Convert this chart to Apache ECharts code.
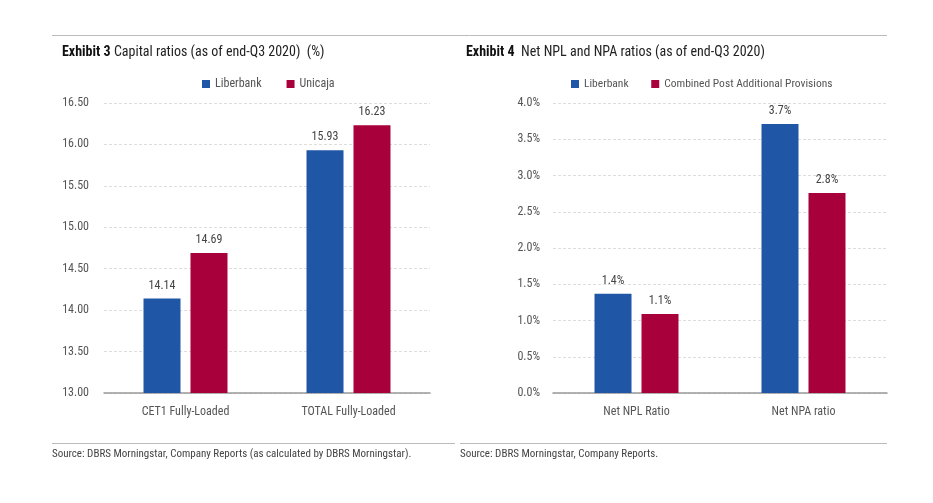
<!DOCTYPE html>
<html><head><meta charset="utf-8">
<script src="https://cdn.jsdelivr.net/npm/echarts@6/dist/echarts.min.js"></script>
<style>html,body{margin:0;padding:0;background:#fff}#c{width:933px;height:503px}</style>
</head><body><div id="c"></div>
<script>
var FONT = "'Liberation Sans Narrow','Arial Narrow','Roboto Condensed',sans-serif";
var capCategories = ['CET1 Fully-Loaded', 'TOTAL Fully-Loaded'];
var capLiberbank = [14.14, 15.93];
var capUnicaja = [14.69, 16.23];
var npCategories = ['Net NPL Ratio', 'Net NPA ratio'];
var npLiberbank = [1.37, 3.71];
var npCombined = [1.09, 2.76];
var BLUE = '#1f56a6', RED = '#a8003a';

var chart = echarts.init(document.getElementById('c'), null, {renderer: 'canvas'});
var axisLabel = {color: '#555', fontFamily: FONT, fontSize: 12};
var lbl = function (fmt) {
  return {show: true, position: 'top', distance: 7, color: '#444', fontFamily: FONT, fontSize: 12, formatter: fmt};
};
chart.setOption({
  animation: false,
  textStyle: {fontFamily: FONT},
  title: [
    {left: 57, top: 40, text: '{b|Exhibit 3} Capital ratios (as of end-Q3 2020)  (%)',
     textStyle: {rich: {b: {fontWeight: 'bold', fontSize: 14, color: '#111', fontFamily: FONT}}, fontSize: 14, color: '#222', fontWeight: 'normal', fontFamily: FONT}},
    {left: 461, top: 40, text: '{b|Exhibit 4}  Net NPL and NPA ratios (as of end-Q3 2020)',
     textStyle: {rich: {b: {fontWeight: 'bold', fontSize: 14, color: '#111', fontFamily: FONT}}, fontSize: 14, color: '#222', fontWeight: 'normal', fontFamily: FONT}},
    {left: 47, top: 444, text: 'Source: DBRS Morningstar, Company Reports (as calculated by DBRS Morningstar).',
     textStyle: {fontSize: 11, color: '#444', fontWeight: 'normal', fontFamily: FONT}},
    {left: 455, top: 444, text: 'Source: DBRS Morningstar, Company Reports.',
     textStyle: {fontSize: 11, color: '#444', fontWeight: 'normal', fontFamily: FONT}}
  ],
  legend: [
    {left: 197, top: 73, itemWidth: 8, itemHeight: 8, itemGap: 25, icon: 'rect',
     textStyle: {color: '#555', fontSize: 12, fontFamily: FONT}, data: ['Liberbank', 'Unicaja']},
    {left: 566, top: 73, itemWidth: 8, itemHeight: 8, itemGap: 20, icon: 'rect',
     textStyle: {color: '#555', fontSize: 11.5, fontFamily: FONT}, data: ['Liberbank ', 'Combined Post Additional Provisions']}
  ],
  grid: [
    {left: 104, width: 326, top: 103, height: 290, containLabel: false},
    {left: 553, width: 334, top: 103, height: 290, containLabel: false}
  ],
  xAxis: [
    {type: 'category', gridIndex: 0, data: capCategories, axisTick: {show: false},
     axisLine: {lineStyle: {color: '#999', width: 1.5}}, axisLabel: Object.assign({margin: 13}, axisLabel)},
    {type: 'category', gridIndex: 1, data: npCategories, axisTick: {show: false},
     axisLine: {lineStyle: {color: '#999', width: 1.5}}, axisLabel: Object.assign({margin: 13}, axisLabel)}
  ],
  yAxis: [
    {type: 'value', gridIndex: 0, min: 13, max: 16.5, interval: 0.5,
     axisLabel: Object.assign({margin: 15, formatter: function (v) { return v.toFixed(2); }}, axisLabel),
     splitLine: {lineStyle: {color: '#ddd', type: [3, 2]}}, axisLine: {show: false}, axisTick: {show: false}},
    {type: 'value', gridIndex: 1, min: 0, max: 4, interval: 0.5,
     axisLabel: Object.assign({margin: 13, formatter: function (v) { return v.toFixed(1) + '%'; }}, axisLabel),
     splitLine: {lineStyle: {color: '#ddd', type: [3, 2]}}, axisLine: {show: false}, axisTick: {show: false}}
  ],
  series: [
    {name: 'Liberbank', type: 'bar', xAxisIndex: 0, yAxisIndex: 0, data: capLiberbank, barWidth: 37, barGap: '27%',
     itemStyle: {color: BLUE}, label: lbl(function (p) { return p.value.toFixed(2); })},
    {name: 'Unicaja', type: 'bar', xAxisIndex: 0, yAxisIndex: 0, data: capUnicaja, barWidth: 37, barGap: '27%',
     itemStyle: {color: RED}, label: lbl(function (p) { return p.value.toFixed(2); })},
    {name: 'Liberbank ', type: 'bar', xAxisIndex: 1, yAxisIndex: 1, data: npLiberbank, barWidth: 37, barGap: '27%',
     itemStyle: {color: BLUE}, label: lbl(function (p) { return p.value.toFixed(1) + '%'; })},
    {name: 'Combined Post Additional Provisions', type: 'bar', xAxisIndex: 1, yAxisIndex: 1, data: npCombined, barWidth: 37, barGap: '27%',
     itemStyle: {color: RED}, label: lbl(function (p) { return p.value.toFixed(1) + '%'; })}
  ],
  graphic: [
    {type: 'line', shape: {x1: 52, y1: 35.5, x2: 887, y2: 35.5}, style: {stroke: '#bbb', lineWidth: 1}},
    {type: 'line', shape: {x1: 52, y1: 443.5, x2: 455, y2: 443.5}, style: {stroke: '#bbb', lineWidth: 1}},
    {type: 'line', shape: {x1: 460, y1: 443.5, x2: 887, y2: 443.5}, style: {stroke: '#bbb', lineWidth: 1}}
  ]
});
</script></body></html>
